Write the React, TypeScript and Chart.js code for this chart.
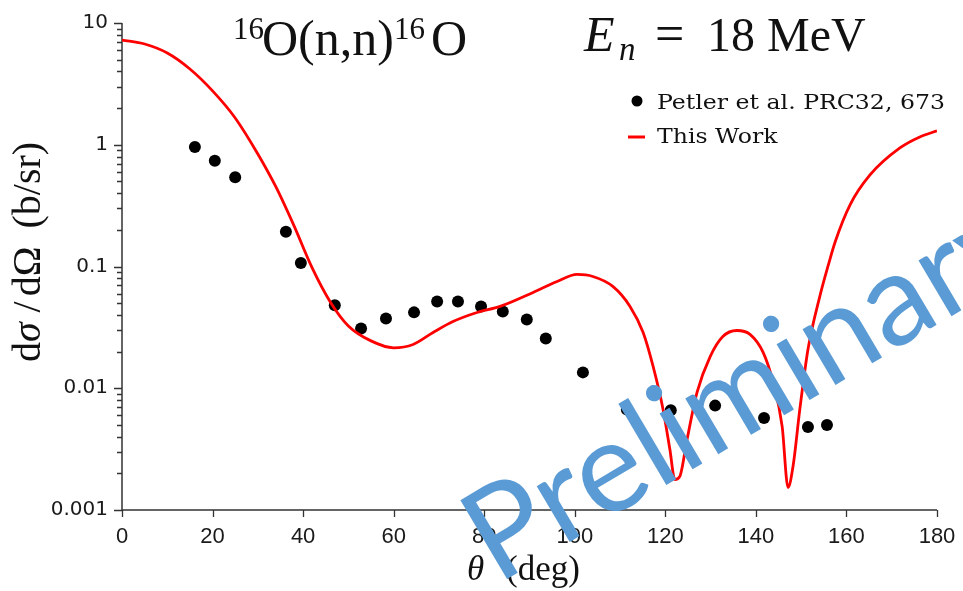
import React, { useEffect, useRef } from 'react';
import { Chart, registerables } from 'chart.js';

Chart.register(...registerables);

// Experimental data (Petler et al. PRC32, 673)
const expTheta = [16.1, 20.5, 25.0, 36.2, 39.5, 47.0, 52.8, 58.3, 64.5, 69.6, 74.2, 79.3, 84.1, 89.4, 93.6, 101.8, 111.5, 121.2, 131.0, 141.8, 151.5, 155.7];
const expSigma = [0.96, 0.74, 0.54, 0.193, 0.107, 0.048, 0.031, 0.0374, 0.042, 0.0516, 0.0516, 0.047, 0.0427, 0.0367, 0.0256, 0.0135, 0.0067, 0.0066, 0.0072, 0.0057, 0.0048, 0.005];

// Calculation (This Work)
const calcTheta = [0, 5, 10, 15, 20, 25, 30, 34, 38, 42, 46, 50, 55, 60, 64.3, 68.7, 73.1, 78.4, 83.5, 90.8, 96.1, 100.5, 104.0, 108.4, 112.2, 115.1, 117.3, 119.5, 121.0, 122.1, 123.2, 124.8, 127.0, 129.9, 132.7, 135.8, 138.7, 141.6, 143.8, 145.8, 147.1, 148.2, 149.7, 151.5, 154.2, 156.0, 157.5, 160.8, 165.2, 171.8, 176.2, 180.0];
const calcSigma = [7.25, 6.72, 5.67, 4.19, 2.77, 1.66, 0.84, 0.45, 0.2155, 0.0974, 0.0512, 0.0325, 0.0245, 0.0215, 0.0229, 0.0287, 0.0353, 0.0419, 0.047, 0.0612, 0.0753, 0.086, 0.0828, 0.0686, 0.047, 0.0287, 0.0151, 0.0067, 0.00315, 0.00178, 0.00189, 0.0038, 0.00925, 0.0182, 0.0266, 0.0298, 0.0277, 0.0197, 0.0112, 0.00486, 0.00153, 0.00228, 0.0067, 0.0208, 0.0585, 0.103, 0.159, 0.321, 0.565, 0.941, 1.159, 1.3];

const xTicks = [0, 20, 40, 60, 80, 100, 120, 140, 160, 180];
const yDecades = [0.001, 0.01, 0.1, 1, 10];
const yDecadeLabels = ['0.001', '0.01', '0.1', '1', '10'];
const legendLabels = ['Petler et al. PRC32, 673', 'This Work'];
const watermarkText = 'Preliminary';

const yTickValues: number[] = [];
for (let i = 0; i < yDecades.length - 1; i++) {
  for (let m = 1; m <= 9; m++) yTickValues.push(m * yDecades[i]);
}
yTickValues.push(yDecades[yDecades.length - 1]);

function decadeIndex(v: number): number {
  for (let i = 0; i < yDecades.length; i++) {
    if (Math.abs(v / yDecades[i] - 1) < 1e-9) return i;
  }
  return -1;
}

const SERIF = "'Liberation Serif', 'Times New Roman', serif";

function drawRuns(ctx: CanvasRenderingContext2D, runs: { t: string; f: string; x: number; y: number }[]) {
  for (const r of runs) {
    ctx.font = r.f;
    ctx.fillText(r.t, r.x, r.y);
  }
}

function stretchedText(ctx: CanvasRenderingContext2D, t: string, x: number, y: number, sx: number) {
  ctx.save();
  ctx.translate(x, y);
  ctx.scale(sx, 1);
  ctx.fillText(t, 0, 0);
  ctx.restore();
}

const decor = {
  id: 'decor',
  beforeDatasetsDraw(chart: any) {
    const ctx: CanvasRenderingContext2D = chart.ctx;
    const xs = chart.scales.x;
    const ys = chart.scales.y;
    const { left, right, top, bottom } = chart.chartArea;
    ctx.save();
    ctx.strokeStyle = '#333';
    ctx.lineWidth = 1.5;
    ctx.beginPath();
    ctx.moveTo(left, top);
    ctx.lineTo(left, bottom);
    ctx.lineTo(right, bottom);
    ctx.stroke();
    ctx.lineWidth = 1.3;
    ctx.beginPath();
    for (const v of xTicks) {
      const px = Math.round(xs.getPixelForValue(v)) + 0.5;
      ctx.moveTo(px, bottom);
      ctx.lineTo(px, bottom + 7);
    }
    for (const v of yTickValues) {
      const py = Math.round(ys.getPixelForValue(v)) + 0.5;
      const len = decadeIndex(v) >= 0 ? 8 : 5;
      ctx.moveTo(left, py);
      ctx.lineTo(left - len, py);
    }
    ctx.stroke();
    ctx.restore();
  },
  afterDraw(chart: any) {
    const ctx: CanvasRenderingContext2D = chart.ctx;
    ctx.save();
    ctx.fillStyle = '#111';
    ctx.textAlign = 'left';
    ctx.textBaseline = 'alphabetic';

    // Title 1: 16O(n,n)16O
    drawRuns(ctx, [
      { t: '16', f: `31px ${SERIF}`, x: 233, y: 39 },
      { t: 'O(n,n)', f: `50px ${SERIF}`, x: 262, y: 55 },
      { t: '16', f: `31px ${SERIF}`, x: 394, y: 39 },
      { t: 'O', f: `50px ${SERIF}`, x: 431, y: 55 },
    ]);
    // Title 2: E_n = 18 MeV
    drawRuns(ctx, [
      { t: 'E', f: `italic 50px ${SERIF}`, x: 584, y: 51 },
      { t: 'n', f: `italic 33px ${SERIF}`, x: 619, y: 60 },
      { t: '=', f: `52px ${SERIF}`, x: 655, y: 51 },
      { t: '18 MeV', f: `48px ${SERIF}`, x: 707, y: 51 },
    ]);

    // X axis label
    drawRuns(ctx, [
      { t: 'θ', f: `italic 35px ${SERIF}`, x: 467, y: 580 },
      { t: '(deg)', f: `35px ${SERIF}`, x: 506, y: 580 },
    ]);

    // Y axis label (rotated)
    ctx.save();
    ctx.translate(40, 252);
    ctx.rotate(-Math.PI / 2);
    const parts = [
      { t: 'd', f: `40px ${SERIF}`, g: 0 },
      { t: 'σ', f: `italic 40px ${SERIF}`, g: 0 },
      { t: '/', f: `40px ${SERIF}`, g: 10 },
      { t: 'dΩ', f: `40px ${SERIF}`, g: 5 },
      { t: '(b/sr)', f: `40px ${SERIF}`, g: 18 },
    ];
    let total = 0;
    for (const p of parts) {
      ctx.font = p.f;
      total += p.g + ctx.measureText(p.t).width;
    }
    let cx = -total / 2;
    for (const p of parts) {
      ctx.font = p.f;
      cx += p.g;
      ctx.fillText(p.t, cx, 0);
      cx += ctx.measureText(p.t).width;
    }
    ctx.restore();

    // Legend
    ctx.fillStyle = '#000';
    ctx.beginPath();
    ctx.arc(637, 101, 5.5, 0, Math.PI * 2);
    ctx.fill();
    ctx.strokeStyle = '#ff0000';
    ctx.lineWidth = 3;
    ctx.beginPath();
    ctx.moveTo(628, 137);
    ctx.lineTo(645, 137);
    ctx.stroke();
    ctx.fillStyle = '#111';
    ctx.font = "20px 'DejaVu Serif', serif";
    stretchedText(ctx, legendLabels[0], 657, 109, 1.18);
    stretchedText(ctx, legendLabels[1], 657, 143, 1.18);

    // Watermark
    ctx.save();
    ctx.translate(497, 585);
    ctx.rotate((-30.6 * Math.PI) / 180);
    ctx.fillStyle = '#5b9bd5';
    ctx.font = "128px Lato, 'Open Sans', sans-serif";
    ctx.fillText(watermarkText, 0, 0);
    ctx.restore();

    ctx.restore();
  },
};

export default function App() {
  const ref = useRef<HTMLCanvasElement>(null);
  useEffect(() => {
    document.body.style.margin = '0';
    const chart = new Chart(ref.current as HTMLCanvasElement, {
      data: {
        datasets: [
          {
            type: 'line',
            label: legendLabels[1],
            data: calcTheta.map((x, i) => ({ x, y: calcSigma[i] })),
            borderColor: '#ff0000',
            borderWidth: 2.8,
            pointRadius: 0,
            cubicInterpolationMode: 'monotone',
            fill: false,
            order: 0,
          },
          {
            type: 'scatter',
            label: legendLabels[0],
            data: expTheta.map((x, i) => ({ x, y: expSigma[i] })),
            backgroundColor: '#000',
            borderColor: '#000',
            borderWidth: 0,
            pointRadius: 6,
            order: 1,
          },
        ],
      } as any,
      options: {
        responsive: false,
        animation: false,
        layout: { padding: { top: 23, right: 26, left: 0, bottom: 0 } },
        plugins: {
          legend: { display: false },
          tooltip: { enabled: false },
          title: { display: false },
        },
        scales: {
          x: {
            type: 'linear',
            min: 0,
            max: 180,
            afterBuildTicks: (s: any) => {
              s.ticks = xTicks.map((v) => ({ value: v }));
            },
            afterFit: (s: any) => {
              s.height = 81;
              s.paddingLeft = 0;
              s.paddingRight = 0;
            },
            grid: { display: false, drawTicks: false },
            border: { display: false },
            ticks: {
              padding: 14,
              color: '#1a1a1a',
              autoSkip: false,
              maxRotation: 0,
              font: { family: "'Liberation Sans', Arial, sans-serif", size: 22 },
              callback: (v: any) => String(v),
            },
          },
          y: {
            type: 'logarithmic',
            min: 0.001,
            max: 10,
            afterBuildTicks: (s: any) => {
              s.ticks = yTickValues.map((v) => ({ value: v }));
            },
            afterFit: (s: any) => {
              s.width = 122;
              s.paddingTop = 0;
              s.paddingBottom = 0;
            },
            grid: { display: false, drawTicks: false },
            border: { display: false },
            ticks: {
              padding: 14,
              color: '#1a1a1a',
              autoSkip: false,
              font: { family: "'DejaVu Sans', sans-serif", size: 20 },
              callback: (v: any) => {
                const i = decadeIndex(Number(v));
                return i >= 0 ? yDecadeLabels[i] : '';
              },
            },
          },
        },
      } as any,
      plugins: [decor],
    });
    return () => chart.destroy();
  }, []);
  return <canvas ref={ref} width={963} height={591} style={{ display: 'block' }} />;
}
